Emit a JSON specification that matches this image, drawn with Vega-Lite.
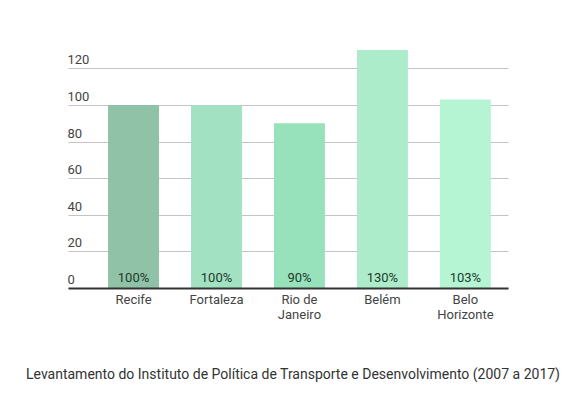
{
  "$schema": "https://vega.github.io/schema/vega-lite/v6.json",
  "autosize": "none",
  "width": 440,
  "height": 238,
  "padding": {"left": 68, "top": 50, "right": 80, "bottom": 117},
  "background": "white",
  "config": {
    "view": {"stroke": null},
    "font": "Roboto"
  },
  "title": {
    "text": "Levantamento do Instituto de Política de Transporte e Desenvolvimento (2007 a 2017)",
    "orient": "bottom",
    "anchor": "middle",
    "font": "Roboto",
    "fontSize": 14,
    "fontWeight": "normal",
    "color": "#333333",
    "offset": 47,
    "dx": 5
  },
  "data": {
    "values": [
      {"cidade": "Recife", "valor": 100},
      {"cidade": "Fortaleza", "valor": 100},
      {"cidade": "Rio de Janeiro", "valor": 90},
      {"cidade": "Belém", "valor": 130},
      {"cidade": "Belo Horizonte", "valor": 103}
    ]
  },
  "transform": [
    {"calculate": "datum.valor + '%'", "as": "rotulo"}
  ],
  "encoding": {
    "x": {
      "field": "cidade",
      "type": "nominal",
      "sort": null,
      "scale": {"paddingInner": 0.386, "paddingOuter": 0.345, "align": 0.7},
      "axis": {
        "title": null,
        "labelAngle": 0,
        "labelFont": "Roboto",
        "labelFontSize": 13,
        "labelColor": "#444444",
        "labelPadding": 5,
        "labelLineHeight": 15,
        "labelOverlap": false,
        "labelExpr": "datum.value == 'Rio de Janeiro' ? ['Rio de', 'Janeiro'] : datum.value == 'Belo Horizonte' ? ['Belo', 'Horizonte'] : datum.value",
        "ticks": false,
        "domainColor": "#333333",
        "domainWidth": 2,
        "zindex": 1
      }
    }
  },
  "layer": [
    {
      "mark": {"type": "bar"},
      "encoding": {
        "y": {
          "field": "valor",
          "type": "quantitative",
          "scale": {"domain": [0, 130], "nice": false},
          "axis": {
            "title": null,
            "values": [0, 20, 40, 60, 80, 100, 120],
            "tickCount": 7,
            "labelOverlap": false,
            "domain": false,
            "ticks": false,
            "tickSize": 0,
            "labelAlign": "left",
            "labelBaseline": "alphabetic",
            "labelPadding": 1,
            "labelOffset": -4.5,
            "labelFont": "Roboto",
            "labelFontSize": 13,
            "labelColor": "#444444",
            "gridColor": "#c4c4c4",
            "gridWidth": 1
          }
        },
        "color": {
          "field": "cidade",
          "type": "nominal",
          "legend": null,
          "scale": {
            "domain": ["Recife", "Fortaleza", "Rio de Janeiro", "Belém", "Belo Horizonte"],
            "range": ["#8fc2a7", "#a2e2c3", "#97e1bb", "#adeccb", "#b5f5d4"]
          }
        }
      }
    },
    {
      "mark": {
        "type": "text",
        "baseline": "middle",
        "dy": -10,
        "font": "Roboto",
        "fontSize": 13,
        "color": "#1d3a2b"
      },
      "encoding": {
        "y": {"datum": 0, "type": "quantitative"},
        "text": {"field": "rotulo", "type": "nominal"}
      }
    }
  ]
}
